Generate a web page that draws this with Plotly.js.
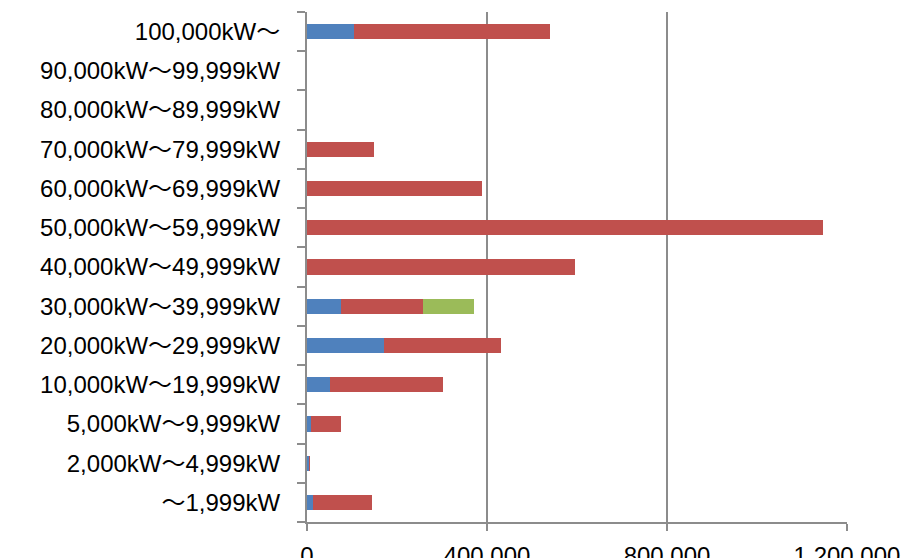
<!DOCTYPE html>
<html>
<head>
<meta charset="utf-8">
<script src="https://cdn.plot.ly/plotly-3.0.1.min.js"></script>
<style>
html,body{margin:0;padding:0;background:#fff;}
#chart{width:902px;height:558px;}
</style>
</head>
<body>
<div id="chart"></div>
<script>
// Categories (bottom to top)
const categories = [
  "〜1,999kW",
  "2,000kW〜4,999kW",
  "5,000kW〜9,999kW",
  "10,000kW〜19,999kW",
  "20,000kW〜29,999kW",
  "30,000kW〜39,999kW",
  "40,000kW〜49,999kW",
  "50,000kW〜59,999kW",
  "60,000kW〜69,999kW",
  "70,000kW〜79,999kW",
  "80,000kW〜89,999kW",
  "90,000kW〜99,999kW",
  "100,000kW〜"
];
const series1Name = "系列1";
const series2Name = "系列2";
const series3Name = "系列3";
const series1 = [13000, 4500, 9000, 52000, 172000, 75000, 0, 0, 0, 0, 0, 0, 105000];
const series2 = [131000, 3000, 66000, 251000, 260000, 182000, 596000, 1146000, 388000, 149000, 0, 0, 436000];
const series3 = [0, 0, 0, 0, 0, 114000, 0, 0, 0, 0, 0, 0, 0];
const xTickVals = [0, 400000, 800000, 1200000];

const colors = ["#4F81BD", "#C0504D", "#9BBB59"];
const names = [series1Name, series2Name, series3Name];
const data = [series1, series2, series3].map((vals, i) => ({
  type: "bar",
  orientation: "h",
  y: categories,
  x: vals,
  name: names[i],
  marker: {color: colors[i], line: {width: 0}},
  hoverinfo: "x+y+name"
}));

const layout = {
  width: 902,
  height: 558,
  barmode: "stack",
  bargap: 0.61,
  showlegend: false,
  paper_bgcolor: "#ffffff",
  plot_bgcolor: "#ffffff",
  margin: {l: 307, r: 55, t: 12, b: 36, pad: 0},
  font: {family: "Liberation Sans, 'Noto Sans CJK JP', sans-serif", color: "#000000", size: 24},
  xaxis: {
    range: [0, 1200000],
    tickvals: xTickVals,
    tickformat: ",d",
    showgrid: true,
    gridcolor: "#8c8c8c",
    gridwidth: 2,
    zeroline: false,
    showline: true,
    linecolor: "#8c8c8c",
    linewidth: 2,
    ticks: "outside",
    ticklen: 7,
    tickwidth: 2,
    tickcolor: "#8c8c8c",
    ticklabelstandoff: 4,
    tickfont: {size: 24},
    fixedrange: true
  },
  yaxis: {
    type: "category",
    categoryorder: "array",
    categoryarray: categories,
    tickson: "boundaries",
    showgrid: false,
    zeroline: false,
    showline: true,
    linecolor: "#8c8c8c",
    linewidth: 2,
    ticks: "outside",
    ticklen: 8,
    tickwidth: 2,
    tickcolor: "#8c8c8c",
    ticklabelstandoff: 20,
    tickfont: {size: 24},
    fixedrange: true
  }
};

Plotly.newPlot("chart", data, layout, {displayModeBar: false, staticPlot: true});
</script>
</body>
</html>
